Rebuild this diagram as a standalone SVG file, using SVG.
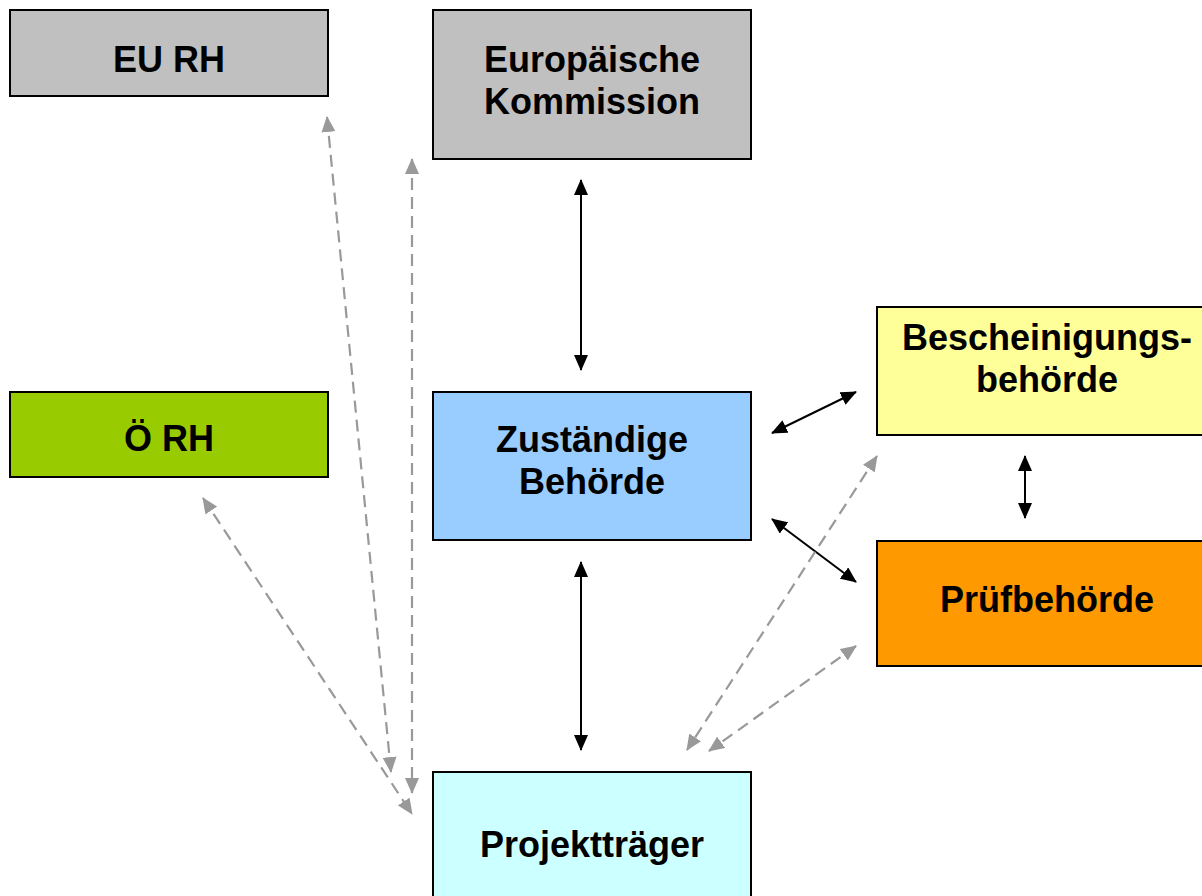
<svg xmlns="http://www.w3.org/2000/svg" width="1202" height="896" viewBox="0 0 1202 896">
<style>
.box{stroke:#000;stroke-width:2}
.lbl{font-family:"Liberation Sans",Arial,sans-serif;font-weight:bold;font-size:36px;fill:#000;text-anchor:middle}
.solid{stroke:#000;stroke-width:2;fill:none;marker-start:url(#ab);marker-end:url(#ab)}
.dash{stroke:#999;stroke-width:2.2;fill:none;stroke-dasharray:12 7;marker-start:url(#ag);marker-end:url(#ag)}
</style>
<defs>
<marker id="ab" viewBox="0 0 16 14" refX="15" refY="7" markerWidth="16" markerHeight="14" markerUnits="userSpaceOnUse" orient="auto-start-reverse">
<path d="M0,0 L16,7 L0,14 z" fill="#000"/>
</marker>
<marker id="ag" viewBox="0 0 16 14" refX="15" refY="7" markerWidth="16" markerHeight="14" markerUnits="userSpaceOnUse" orient="auto-start-reverse">
<path d="M0,0 L16,7 L0,14 z" fill="#999"/>
</marker>
</defs>
<rect width="1202" height="896" fill="#fff"/>
<g id="connectors">
<line class="solid" x1="581" y1="180" x2="581" y2="370"/>
<line class="solid" x1="581" y1="562" x2="581" y2="750"/>
<line class="solid" x1="772" y1="433" x2="856" y2="392"/>
<line class="solid" x1="772" y1="519" x2="856" y2="582"/>
<line class="solid" x1="1025" y1="456" x2="1025" y2="518"/>
<line class="dash" x1="327" y1="117" x2="391" y2="772"/>
<line class="dash" x1="412" y1="159" x2="412" y2="793"/>
<line class="dash" x1="203" y1="498" x2="412" y2="814"/>
<line class="dash" x1="877" y1="456" x2="687" y2="750"/>
<line class="dash" x1="856" y1="646" x2="709" y2="751"/>
</g>
<g id="eu-rh">
<rect class="box" x="10" y="10" width="318" height="86" fill="#C0C0C0"/>
<text class="lbl" x="169" y="72">EU RH</text>
</g>
<g id="europaeische-kommission">
<rect class="box" x="433" y="10" width="318" height="149" fill="#C0C0C0"/>
<text class="lbl" x="592" y="72">Europäische</text>
<text class="lbl" x="592" y="114">Kommission</text>
</g>
<g id="oe-rh">
<rect class="box" x="10" y="392" width="318" height="85" fill="#99CC00"/>
<text class="lbl" x="169" y="451">Ö RH</text>
</g>
<g id="zustaendige-behoerde">
<rect class="box" x="433" y="392" width="318" height="148" fill="#99CCFF"/>
<text class="lbl" x="592" y="452">Zuständige</text>
<text class="lbl" x="592" y="494">Behörde</text>
</g>
<g id="bescheinigungsbehoerde">
<rect class="box" x="877" y="307" width="335" height="128" fill="#FFFF99"/>
<text class="lbl" x="1047" y="350">Bescheinigungs-</text>
<text class="lbl" x="1047" y="392">behörde</text>
</g>
<g id="pruefbehoerde">
<rect class="box" x="877" y="541" width="335" height="125" fill="#FF9900"/>
<text class="lbl" x="1047" y="612">Prüfbehörde</text>
</g>
<g id="projekttraeger">
<rect class="box" x="433" y="772" width="318" height="140" fill="#CCFFFF"/>
<text class="lbl" x="592" y="857">Projektträger</text>
</g>
</svg>
